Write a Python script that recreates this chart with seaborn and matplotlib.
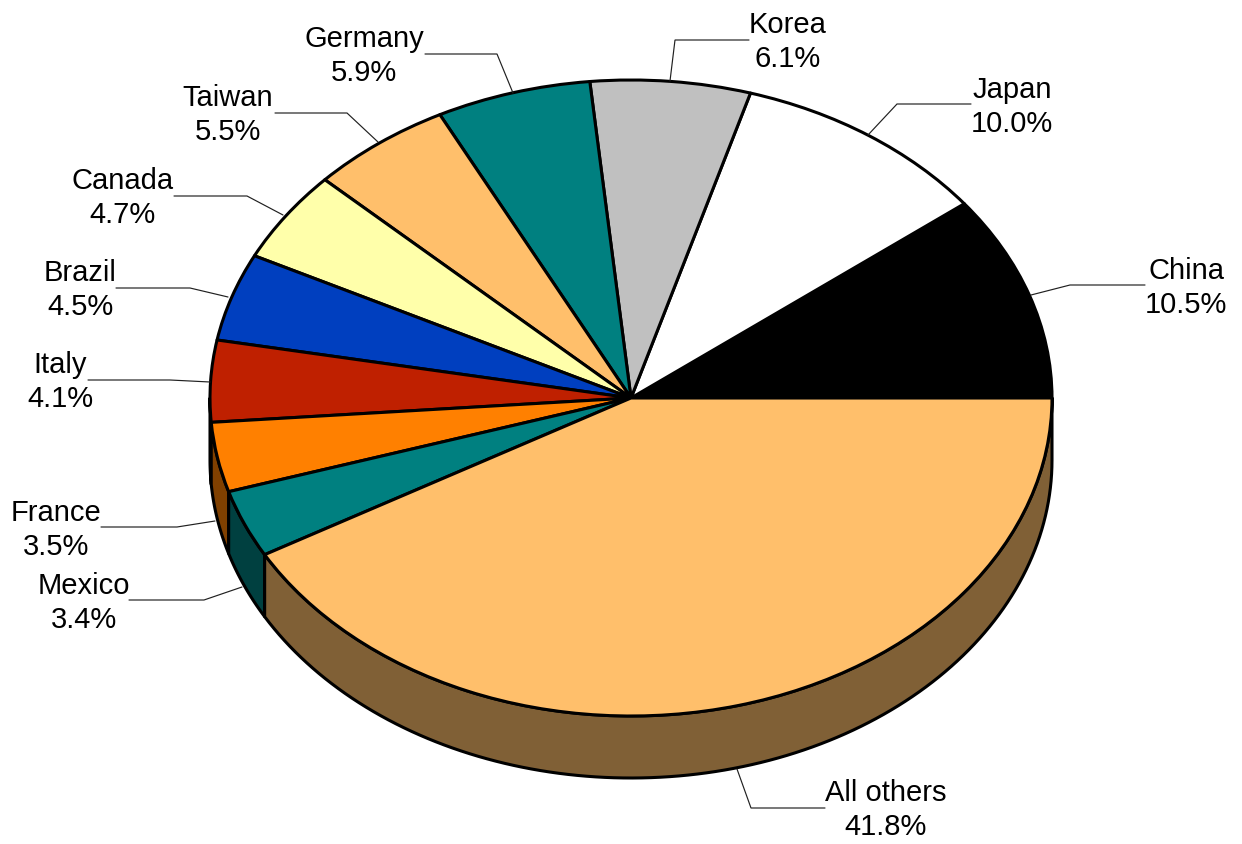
import numpy as np
import matplotlib
matplotlib.use("Agg")
import matplotlib.pyplot as plt
import seaborn as sns

# Data
countries = ["China", "Japan", "Korea", "Germany", "Taiwan", "Canada",
             "Brazil", "Italy", "France", "Mexico", "All others"]
shares = [10.46, 9.96, 6.14, 5.94, 5.46, 4.66, 4.46, 4.14, 3.54, 3.44, 41.8]

# Styles
top_colors = ["#000000", "#FFFFFF", "#C0C0C0", "#008080", "#FFBF6B", "#FFFFAA",
              "#003FBF", "#BF2000", "#FF8000", "#008080", "#FFBF6B"]

# Layout in reference pixels
W, H = 1242, 844
CX, CY, RX, RY, DEPTH = 631, 398, 421, 318, 62
label_pos = [(1186, 288), (1012, 107), (788, 42), (364, 56), (228, 115), (123, 198),
             (80, 290), (60, 382), (56, 530), (84, 603), (886, 810)]
leaders = [
    [(1145, 285), (1070, 285), (1031, 295)],
    [(971, 104), (897, 104), (868, 135)],
    [(749, 40), (675, 40), (670, 81)],
    [(425, 54), (497, 54), (513, 93)],
    [(275, 113), (347, 113), (378, 142)],
    [(174, 196), (247, 196), (283, 215)],
    [(116, 288), (190, 288), (228, 297)],
    [(88, 380), (170, 380), (210, 382)],
    [(101, 527), (177, 527), (215, 521)],
    [(129, 600), (204, 600), (242, 587)],
    [(825, 808), (751, 808), (737, 769)],
]


def px(x, y):
    return (x - CX) / RX, (CY - y) / RY


sns.set_theme(style="white")
plt.rcParams["font.family"] = ["Liberation Sans", "DejaVu Sans"]
palette = sns.color_palette(top_colors)
side_palette = [tuple(c * 0.5 for c in col) for col in palette]

fig = plt.figure(figsize=(W / 100, H / 100), dpi=100, facecolor="white")
ax = fig.add_axes([0, 0, 1, 1])

EDGE = 2.2
ax.pie(shares, colors=palette, startangle=0, counterclock=True, radius=1,
       wedgeprops=dict(edgecolor="black", linewidth=EDGE, joinstyle="round", zorder=3))

# Side wall of the disc, front half only
d = DEPTH / RY
edges = np.concatenate([[0], np.cumsum(shares)]) / np.sum(shares) * 360
for a0, a1, col in zip(edges[:-1], edges[1:], side_palette):
    lo, hi = max(a0, 180), min(a1, 360)
    if hi <= lo:
        continue
    t = np.radians(np.linspace(lo, hi, 120))
    xs = np.concatenate([np.cos(t), np.cos(t[::-1])])
    ys = np.concatenate([np.sin(t), np.sin(t[::-1]) - d])
    ax.fill(xs, ys, facecolor=col, edgecolor="black", linewidth=EDGE,
            joinstyle="round", zorder=2)

ax.set_aspect("auto")
ax.set_xlim(px(0, 0)[0], px(W, 0)[0])
ax.set_ylim(px(0, H)[1], px(0, 0)[1])
ax.axis("off")

for name, val, pos, path in zip(countries, shares, label_pos, leaders):
    pts = np.array([px(*p) for p in path])
    ax.plot(pts[:, 0], pts[:, 1], color="#202020", lw=0.85, zorder=4,
            solid_joinstyle="miter", clip_on=False)
    x, y = px(*pos)
    ax.text(x, y, f"{name}\n{val:.1f}%", ha="center", va="center",
            multialignment="center", fontsize=21, color="black",
            linespacing=1.27, zorder=5)

fig.savefig("out.png", dpi=100, facecolor="white")
